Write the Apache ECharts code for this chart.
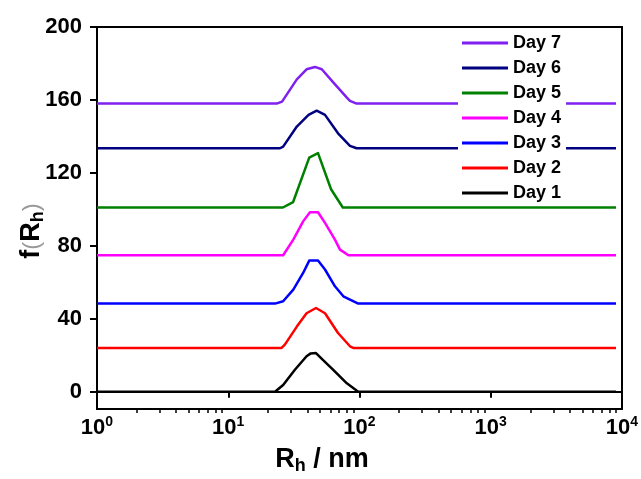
<!DOCTYPE html>
<html>
<head>
<meta charset="utf-8">
<script src="https://cdn.jsdelivr.net/npm/echarts@6/dist/echarts.min.js"></script>
<style>
  html, body { margin: 0; padding: 0; background: #fff; }
  #chart { width: 641px; height: 479px; }
</style>
</head>
<body>
<div id="chart"></div>
<script>
// legend / series names, bottom to top
const days = ['Day 1', 'Day 2', 'Day 3', 'Day 4', 'Day 5', 'Day 6', 'Day 7']
const colors = ['#000000', '#ff0000', '#0000ff', '#ff00ff', '#008000', '#000080', '#8020f0']

// vertical offset of each curve
const baselines = [0, 24, 48.3, 74.8, 101, 133.5, 158]

// hydrodynamic radius (nm) and f(Rh)
const radiusDay1 = [1, 22.7, 26.2, 32.2, 39.5, 42.5, 46.6, 52.6, 63.1, 80.1, 97.8, 9000]
const fDay1 = [0, 0, 3.7, 12, 19.4, 21, 21.2, 17.4, 12, 4.6, 0, 0]

const radiusDay2 = [1, 25.5, 27.0, 33.3, 39.5, 46.6, 54.6, 68.6, 84.6, 89.6, 9000]
const fDay2 = [0, 0, 1.8, 11.7, 19.0, 21.9, 19.0, 8.2, 0.9, 0, 0]

const radiusDay3 = [1, 22.7, 26.2, 31.3, 37.2, 41.4, 48.3, 54.6, 65.0, 75.3, 97.8, 9000]
const fDay3 = [0, 0, 1.3, 7.7, 16.8, 23.6, 23.6, 18.7, 9.5, 4.0, 0, 0]

const radiusDay4 = [1, 26.2, 31.3, 37.2, 41.9, 48.3, 54.6, 65.0, 71.0, 82.3, 9000]
const fDay4 = [0, 0, 8.6, 18.6, 23.6, 23.6, 17.8, 8.6, 3.1, 0, 0]

const radiusDay5 = [1, 26.1, 31.2, 41.4, 48.3, 60.7, 74.6, 9000]
const fDay5 = [0, 0, 3, 27.4, 29.8, 10, 0, 0]

const radiusDay6 = [1, 24.8, 26.2, 33.3, 40.9, 47.2, 54.6, 68.6, 84.6, 95, 9000]
const fDay6 = [0, 0, 0.9, 11.9, 18.3, 20.6, 18.3, 8.2, 1.3, 0, 0]

const radiusDay7 = [1, 23.4, 25.7, 33.3, 39.5, 45.8, 51.6, 63.1, 80.1, 84.6, 95, 9000]
const fDay7 = [0, 0, 1.1, 13.3, 18.8, 20.1, 18.8, 11.6, 3.3, 1.5, 0, 0]

const radii = [radiusDay1, radiusDay2, radiusDay3, radiusDay4, radiusDay5, radiusDay6, radiusDay7]
const fValues = [fDay1, fDay2, fDay3, fDay4, fDay5, fDay6, fDay7]

// axis ticks
const yTicks = [0, 40, 80, 120, 160, 200]
const xMajorTicks = [1, 10, 100, 1000, 10000]
const xMinorTicks = [2, 3, 4, 5, 6, 7, 8, 9, 20, 30, 40, 50, 60, 70, 80, 90,
  200, 300, 400, 500, 600, 700, 800, 900, 2000, 3000, 4000, 5000, 6000, 7000, 8000, 9000]

const font = 'Arial, "Liberation Sans", sans-serif'

const chart = echarts.init(document.getElementById('chart'))

const series = days.map((name, i) => ({
  name: name,
  type: 'line',
  xAxisIndex: 0,
  symbol: 'none',
  data: radii[i].map((r, j) => [r, baselines[i] + fValues[i][j]]),
  lineStyle: { color: colors[i], width: 2.5, join: 'round' },
  itemStyle: { color: colors[i] }
}))

chart.setOption({
  animation: false,
  backgroundColor: '#fff',
  grid: {
    left: 97,
    right: 19,
    top: 27,
    bottom: 70,
    outerBoundsMode: 'none',
    containLabel: false,
    show: true,
    borderColor: '#000',
    borderWidth: 2
  },
  legend: {
    data: days.slice().reverse(),
    orient: 'vertical',
    left: 458,
    top: 31,
    padding: [3, 5, 3, 4],
    backgroundColor: '#fff',
    icon: 'rect',
    itemWidth: 46,
    itemHeight: 3,
    itemGap: 7,
    textStyle: { fontFamily: font, fontSize: 18, fontWeight: 'bold', color: '#000', lineHeight: 18 }
  },
  xAxis: [
    {
      type: 'log',
      logBase: 10,
      min: 1,
      max: 10000,
      position: 'bottom',
      splitLine: { show: false },
      axisLine: { lineStyle: { color: '#000', width: 2 } },
      axisTick: { customValues: xMajorTicks, length: 6, lineStyle: { color: '#000', width: 2 } },
      axisLabel: {
        customValues: xMajorTicks,
        margin: 6,
        formatter: v => '{b|10}{s|' + Math.round(Math.log10(v)) + '}',
        rich: {
          b: { fontFamily: font, fontSize: 22, fontWeight: 'bold', color: '#000', lineHeight: 26 },
          s: { fontFamily: font, fontSize: 14, fontWeight: 'bold', color: '#000', verticalAlign: 'top', lineHeight: 14 }
        }
      },
      name: '{r|R}{h|h}{r| / nm}',
      nameLocation: 'middle',
      nameGap: 36,
      nameMoveOverlap: false,
      nameTextStyle: {
        padding: [0, 75, 0, 0],
        rich: {
          r: { fontFamily: font, fontSize: 27, fontWeight: 'bold', color: '#000', lineHeight: 30 },
          h: { fontFamily: font, fontSize: 18, fontWeight: 'bold', color: '#000', verticalAlign: 'bottom', lineHeight: 4 }
        }
      }
    },
    {
      type: 'log',
      logBase: 10,
      min: 1,
      max: 10000,
      position: 'bottom',
      splitLine: { show: false },
      axisLine: { show: false },
      axisLabel: { show: false },
      axisTick: { customValues: xMinorTicks, length: 4, lineStyle: { color: '#000', width: 1.5 } }
    }
  ],
  yAxis: {
    type: 'value',
    min: -9.5,
    max: 200,
    splitLine: { show: false },
    axisLine: { lineStyle: { color: '#000', width: 2 } },
    axisTick: { customValues: yTicks, length: 7, lineStyle: { color: '#000', width: 2 } },
    axisLabel: {
      customValues: yTicks,
      margin: 15,
      fontFamily: font,
      fontSize: 22,
      fontWeight: 'bold',
      color: '#000'
    },
    name: '{r|f}{p|(}{r|R}{h|h}{p|)}',
    nameLocation: 'middle',
    nameRotate: 90,
    nameGap: 50,
    nameMoveOverlap: false,
    nameTextStyle: {
      padding: [0, 26, 0, 0],
      rich: {
        r: { fontFamily: font, fontSize: 27, fontWeight: 'bold', color: '#000', lineHeight: 30 },
        p: { fontFamily: font, fontSize: 24, color: '#999', lineHeight: 30 },
        h: { fontFamily: font, fontSize: 18, fontWeight: 'bold', color: '#000', verticalAlign: 'bottom', lineHeight: 4 }
      }
    }
  },
  series: series
})
</script>
</body>
</html>
